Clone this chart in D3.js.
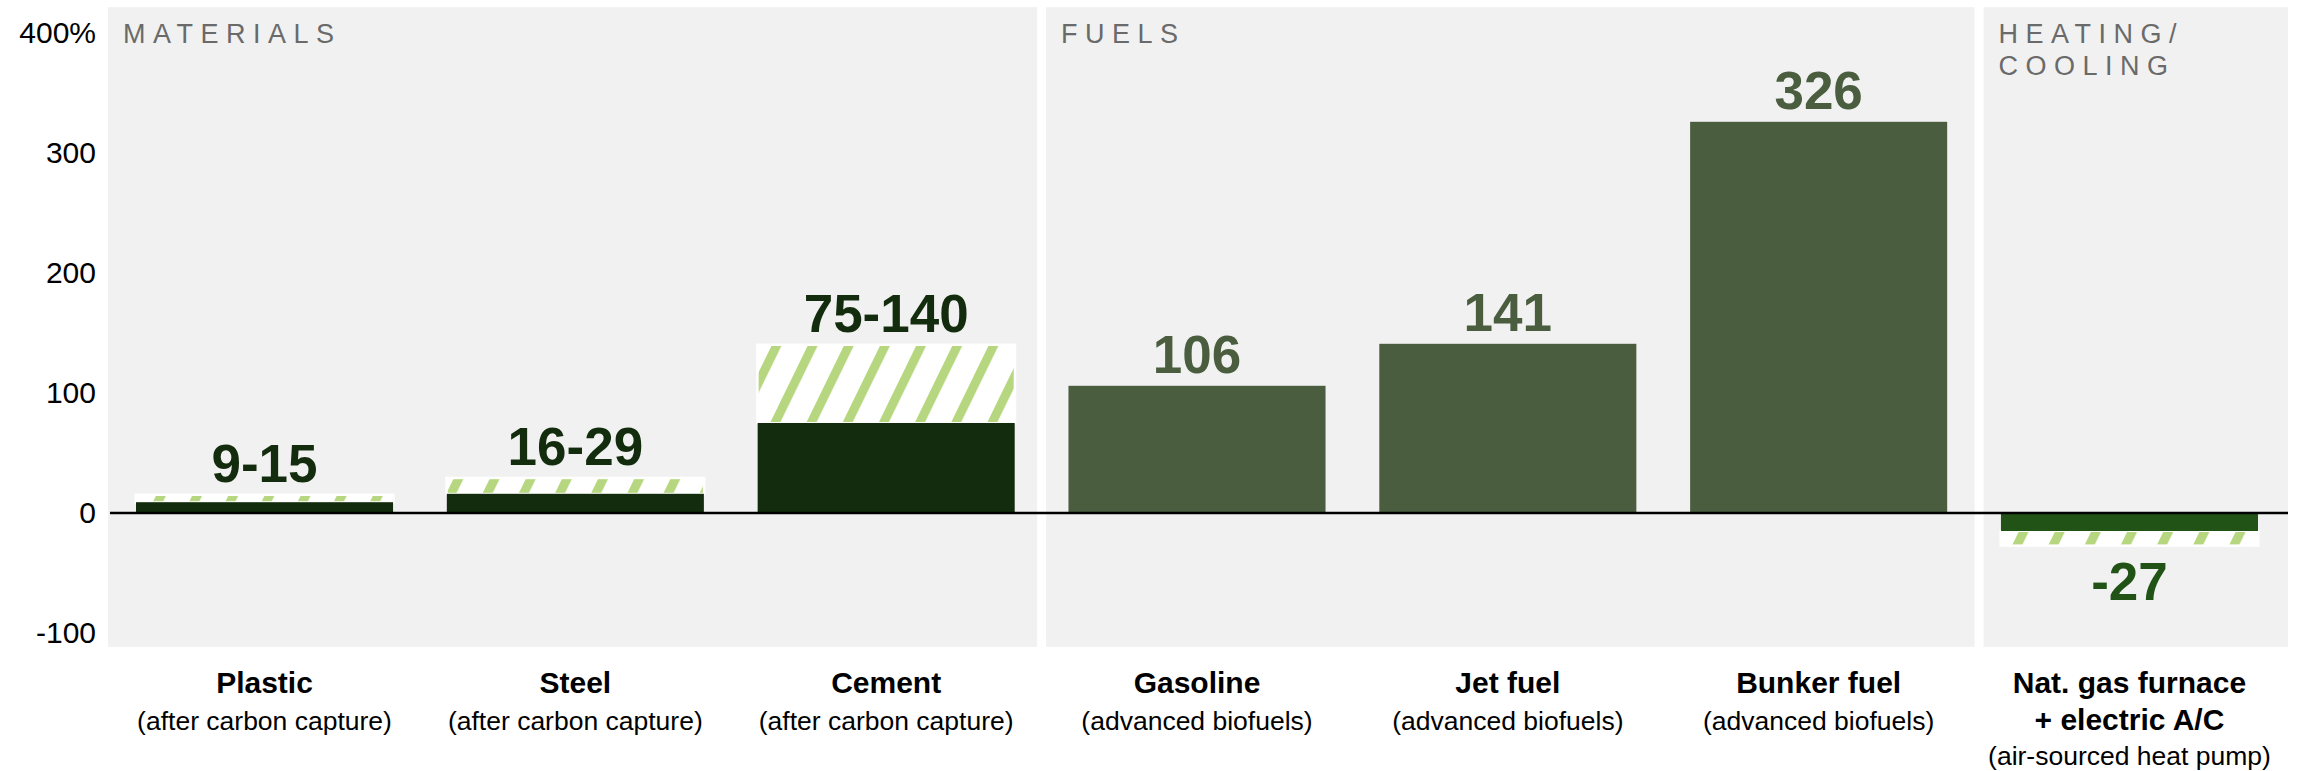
<!DOCTYPE html>
<html>
<head>
<meta charset="utf-8">
<script src="https://cdn.jsdelivr.net/npm/d3@7"></script>
<style>
  html, body { margin: 0; padding: 0; background: #ffffff; }
  svg { display: block; font-family: "Liberation Sans", Arial, Helvetica, sans-serif; }
</style>
</head>
<body>
<svg id="chart" width="2297" height="771"></svg>
<script>
// ---- data ----
const categories = ["Plastic", "Steel", "Cement", "Gasoline", "Jet fuel", "Bunker fuel", "Nat. gas furnace"];
const categorySecondLine = ["", "", "", "", "", "", "+ electric A/C"];
const subtitles = ["(after carbon capture)", "(after carbon capture)", "(after carbon capture)",
                   "(advanced biofuels)", "(advanced biofuels)", "(advanced biofuels)",
                   "(air-sourced heat pump)"];
const groupOf = ["materials", "materials", "materials", "fuels", "fuels", "fuels", "heating"];
const groupKeys = ["materials", "fuels", "heating"];
const groupTitles = [["MATERIALS"], ["FUELS"], ["HEATING/", "COOLING"]];
const lowValues  = [9, 16, 75, 106, 141, 326, -15];
const highValues = [15, 29, 140, 106, 141, 326, -27];
const valueLabels = ["9-15", "16-29", "75-140", "106", "141", "326", "-27"];
const yTicks = [-100, 0, 100, 200, 300, 400];
const yTickLabels = ["-100", "0", "100", "200", "300", "400%"];

// ---- styles ----
const barColor = { materials: "#132c0d", fuels: "#4a5e3f", heating: "#215316" };
const hatchColor = "#b6d77f";
const panelColor = "#f1f1f1";

const svg = d3.select("#chart");

const x = d3.scaleBand().domain(categories).range([136, 2258]).paddingInner(0.173).paddingOuter(0);
const y = d3.scaleLinear().domain([-100, 400]).range([633, 33]);
const bw = x.bandwidth();

// hatch pattern
const defs = svg.append("defs");
const pat = defs.append("pattern")
  .attr("id", "hatch").attr("patternUnits", "userSpaceOnUse")
  .attr("width", 32.5).attr("height", 32.5)
  .attr("patternTransform", "rotate(26)");
pat.append("rect").attr("width", 32.5).attr("height", 32.5).attr("fill", "#ffffff");
pat.append("rect").attr("x", 0).attr("width", 9).attr("height", 32.5).attr("fill", hatchColor);

// panels
const panelTop = y(421.5), panelBottom = y(-111.5);
const groupIdx = groupKeys.map(g => categories.filter((c, i) => groupOf[i] === g));
const bounds = [x(categories[0]) - 28];
for (let g = 0; g < groupIdx.length - 1; g++) {
  const lastEnd = x(groupIdx[g][groupIdx[g].length - 1]) + bw;
  const nextStart = x(groupIdx[g + 1][0]);
  bounds.push((lastEnd + nextStart) / 2 + (g === 1 ? 5 : 0));
}
bounds.push(x(categories[categories.length - 1]) + bw + 30);

groupKeys.forEach((g, gi) => {
  const left = bounds[gi] + (gi === 0 ? 0 : 4.5);
  const right = bounds[gi + 1] - (gi === groupKeys.length - 1 ? 0 : 4.5);
  svg.append("rect")
    .attr("x", left).attr("y", panelTop)
    .attr("width", right - left).attr("height", panelBottom - panelTop)
    .attr("fill", panelColor);
  const t = svg.append("text")
    .attr("x", left + 15).attr("y", 43)
    .attr("fill", "#6a6a6a").attr("font-size", 27)
    .attr("letter-spacing", 7.5);
  groupTitles[gi].forEach((line, li) => {
    t.append("tspan").attr("x", left + 15).attr("y", 43 + li * 32).text(line);
  });
});

// y axis
const yAxis = d3.axisLeft(y).tickValues(yTicks).tickSize(0).tickPadding(0)
  .tickFormat((d, i) => yTickLabels[i]);
const gy = svg.append("g").attr("transform", "translate(96,0)").call(yAxis);
gy.select(".domain").remove();
gy.selectAll("text").attr("font-size", 30).attr("fill", "#000")
  .attr("font-family", "'Liberation Sans', Arial, sans-serif");

// bars
const data = categories.map((c, i) => ({
  c, i, g: groupOf[i], low: lowValues[i], high: highValues[i], label: valueLabels[i]
}));

// hatched range
data.filter(d => d.low !== d.high).forEach(d => {
  const y1 = y(Math.max(d.low, d.high)), y2 = y(Math.min(d.low, d.high));
  svg.append("rect")
    .attr("x", x(d.c) - 1.5).attr("y", y1 - 1.5)
    .attr("width", bw + 3).attr("height", y2 - y1 + 3)
    .attr("fill", "#ffffff");
  svg.append("rect")
    .attr("x", x(d.c) + 1).attr("y", y1 + 1)
    .attr("width", bw - 2).attr("height", Math.max(0, y2 - y1 - 2))
    .attr("fill", "url(#hatch)");
});

// solid bars
svg.selectAll("rect.bar").data(data).enter().append("rect")
  .attr("class", "bar")
  .attr("x", d => x(d.c))
  .attr("y", d => Math.min(y(d.low), y(0)))
  .attr("width", bw)
  .attr("height", d => Math.abs(y(d.low) - y(0)))
  .attr("fill", d => barColor[d.g]);

// zero line
svg.append("line")
  .attr("x1", bounds[0] + 2).attr("x2", bounds[bounds.length - 1])
  .attr("y1", y(0)).attr("y2", y(0))
  .attr("stroke", "#000").attr("stroke-width", 2.5);

// value labels
svg.selectAll("text.val").data(data).enter().append("text")
  .attr("class", "val")
  .attr("x", d => x(d.c) + bw / 2)
  .attr("y", d => {
    const top = Math.max(d.low, d.high), bot = Math.min(d.low, d.high);
    return top > 0 ? y(top) - 13 : y(bot) + 55;
  })
  .attr("text-anchor", "middle")
  .attr("font-size", 53).attr("font-weight", "bold")
  .attr("fill", d => barColor[d.g])
  .text(d => d.label);

// category labels
data.forEach(d => {
  const cx = x(d.c) + bw / 2;
  svg.append("text").attr("x", cx).attr("y", 693)
    .attr("text-anchor", "middle").attr("font-size", 30).attr("font-weight", "bold")
    .attr("fill", "#000").text(d.c);
  let subY = 730;
  if (categorySecondLine[d.i]) {
    svg.append("text").attr("x", cx).attr("y", 730)
      .attr("text-anchor", "middle").attr("font-size", 30).attr("font-weight", "bold")
      .attr("fill", "#000").text(categorySecondLine[d.i]);
    subY = 765;
  }
  svg.append("text").attr("x", cx).attr("y", subY)
    .attr("text-anchor", "middle").attr("font-size", 26.5)
    .attr("fill", "#000").text(subtitles[d.i]);
});
</script>
</body>
</html>
